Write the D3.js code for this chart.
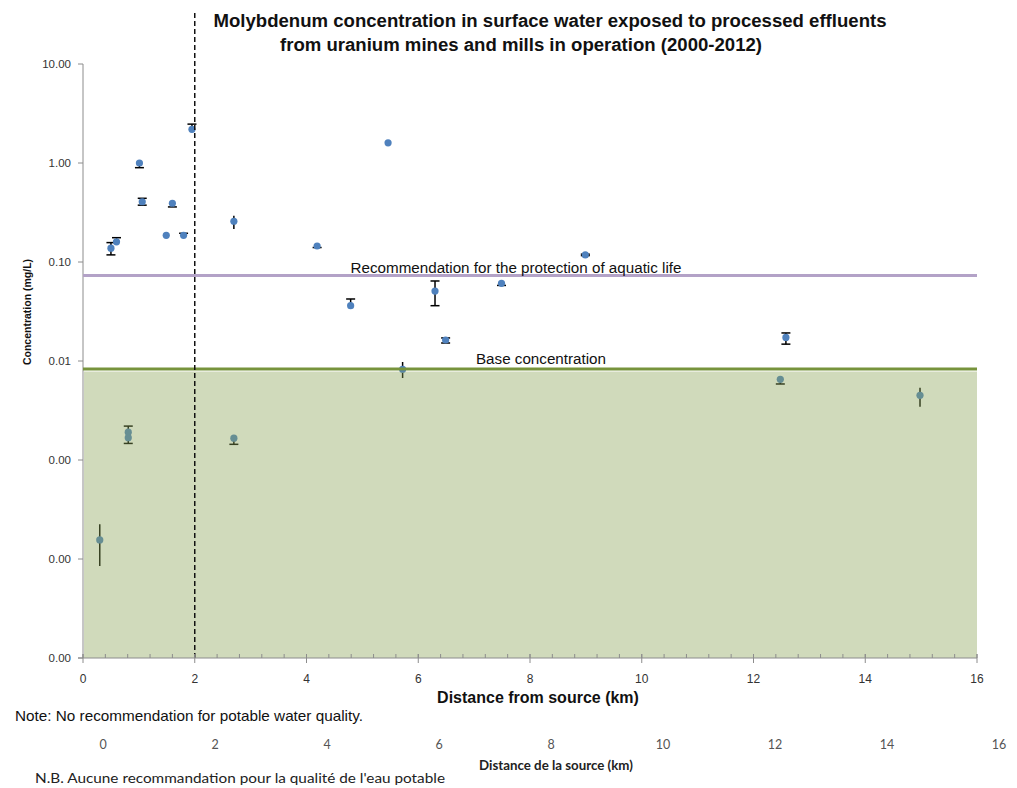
<!DOCTYPE html>
<html><head><meta charset="utf-8">
<script src="https://cdn.jsdelivr.net/npm/d3@7"></script>
<style>body{margin:0;background:#fff}</style>
</head><body>
<svg id="c" width="1017" height="788"></svg>
<script>
// Distances (km) and concentrations (mg/L) with error-bar bounds
const capX    = [0.50, 0.60, 0.81, 0.81, 1.01, 1.06, 1.49, 1.60, 1.80, 1.95, 2.70, 4.19, 4.79, 5.46, 6.30, 6.49, 7.49, 8.99, 12.48, 12.58];
const capY    = [0.138, 0.160, 0.00191, 0.00168, 1.00, 0.406, 0.186, 0.392, 0.186, 2.19, 0.00166, 0.145, 0.0362, 1.60, 0.0509, 0.0163, 0.0609, 0.118, 0.00653, 0.0173];
const capLo   = [0.118, 0.160, 0.00191, 0.00147, 0.897, 0.375, 0.186, 0.360, 0.186, 2.19, 0.00144, 0.140, 0.0362, 1.60, 0.0362, 0.0152, 0.0580, 0.116, 0.00586, 0.0148];
const capHi   = [0.157, 0.176, 0.00220, 0.00168, 1.00, 0.440, 0.186, 0.392, 0.195, 2.47, 0.00166, 0.145, 0.0423, 1.60, 0.0643, 0.0171, 0.0609, 0.120, 0.00653, 0.0192];
const rangeX  = [0.30, 2.70, 5.72, 14.98];
const rangeY  = [0.000156, 0.258, 0.00824, 0.0045];
const rangeLo = [0.0000849, 0.215, 0.00673, 0.00345];
const rangeHi = [0.000224, 0.294, 0.00977, 0.00537];
const aquaticGuideline = 0.073;
const baseConcentration = 0.0083;
const dividerKm = 2;
const xTicks = [0, 2, 4, 6, 8, 10, 12, 14, 16];
const yTicks = [10, 1, 0.1, 0.01, 0.001, 0.0001, 0.00001];
const titleLines = ["Molybdenum concentration in surface water exposed to processed effluents",
                    "from uranium mines and mills in operation (2000-2012)"];

const svg = d3.select("#c");
const x = d3.scaleLinear().domain([0, 16]).range([83, 977]);
const y = d3.scaleLog().domain([1e-5, 10]).range([658, 64]);
const narrow = "'Liberation Sans Narrow','Arial Narrow','Liberation Sans',Arial,sans-serif";
const sans = "'Liberation Sans',Arial,sans-serif";

// Title
const tx = [550, 521], ty = [27, 51], tl = [673, 482];
titleLines.forEach((t, i) => svg.append("text").attr("x", tx[i]).attr("y", ty[i])
  .attr("text-anchor", "middle").attr("font-family", narrow).attr("font-weight", "bold")
  .attr("font-size", 18).attr("fill", "#111").attr("textLength", tl[i]).attr("lengthAdjust", "spacingAndGlyphs").text(t));

// Y axis
svg.append("line").attr("x1", 83).attr("x2", 83).attr("y1", y(10)).attr("y2", y(1e-5)).attr("stroke", "#8c8c8c").attr("stroke-width", 1);
const yg = svg.append("g");
yTicks.forEach(v => {
  yg.append("line").attr("x1", 78).attr("x2", 83).attr("y1", y(v)).attr("y2", y(v)).attr("stroke", "#8c8c8c");
  yg.append("text").attr("x", 71).attr("y", y(v) + 4).attr("text-anchor", "end")
    .attr("font-family", sans).attr("font-size", 11.5).attr("fill", "#333").text(d3.format(".2f")(v));
});
svg.append("text").attr("transform", "translate(31,312) rotate(-90)").attr("text-anchor", "middle")
  .attr("font-family", sans).attr("font-weight", "bold").attr("font-size", 10.5).attr("fill", "#111")
  .text("Concentration (mg/L)");

// Points & error bars (drawn under the translucent base-concentration band)
const capData = capX.map((d, i) => ({x: d, y: capY[i], lo: capLo[i], hi: capHi[i]}));
const rangeData = rangeX.map((d, i) => ({x: d, y: rangeY[i], lo: rangeLo[i], hi: rangeHi[i]}));
const eb = svg.append("g").attr("stroke", "#000").attr("stroke-width", 1.5);
capData.concat(rangeData).forEach(d => {
  if (y(d.lo) - y(d.hi) > 0.5)
    eb.append("line").attr("x1", x(d.x)).attr("x2", x(d.x)).attr("y1", y(d.lo)).attr("y2", y(d.hi));
});
capData.forEach(d => {
  if (d.lo < d.y) eb.append("line").attr("x1", x(d.x) - 4.5).attr("x2", x(d.x) + 4.5).attr("y1", y(d.lo)).attr("y2", y(d.lo));
  if (d.hi > d.y) eb.append("line").attr("x1", x(d.x) - 4.5).attr("x2", x(d.x) + 4.5).attr("y1", y(d.hi)).attr("y2", y(d.hi));
});
svg.append("g").selectAll("circle").data(capData.concat(rangeData)).join("circle")
  .attr("cx", d => x(d.x)).attr("cy", d => y(d.y)).attr("r", 3.6).attr("fill", "#4f81bd");

// Base concentration band
svg.append("rect").attr("x", 84).attr("y", y(baseConcentration) + 2.5).attr("width", x(16) - 84)
  .attr("height", y(1e-5) - y(baseConcentration) - 2.5).attr("fill", "#8aa355").attr("opacity", 0.4);
svg.append("line").attr("x1", 83).attr("x2", x(16)).attr("y1", y(baseConcentration)).attr("y2", y(baseConcentration))
  .attr("stroke", "#77933c").attr("stroke-width", 3);
svg.append("line").attr("x1", 83).attr("x2", x(16)).attr("y1", y(aquaticGuideline)).attr("y2", y(aquaticGuideline))
  .attr("stroke", "#b3a2c7").attr("stroke-width", 3);
svg.append("text").attr("x", 516).attr("y", y(aquaticGuideline) - 3).attr("text-anchor", "middle")
  .attr("font-family", sans).attr("font-size", 15.2).attr("fill", "#111").text("Recommendation for the protection of aquatic life");
svg.append("text").attr("x", 541).attr("y", y(baseConcentration) - 5).attr("text-anchor", "middle")
  .attr("font-family", sans).attr("font-size", 15.2).attr("fill", "#111").text("Base concentration");

// Divider at 2 km
svg.append("line").attr("x1", x(dividerKm)).attr("x2", x(dividerKm)).attr("y1", 13).attr("y2", y(1e-5))
  .attr("stroke", "#111").attr("stroke-width", 1.5).attr("stroke-dasharray", "5,3");

// X axis
svg.append("line").attr("x1", 78).attr("x2", x(16)).attr("y1", 658).attr("y2", 658).attr("stroke", "#8c8c8c");
const minor = d3.range(0, 16.001, 0.4);
minor.forEach(v => svg.append("line").attr("x1", x(v)).attr("x2", x(v)).attr("y1", 654).attr("y2", 658).attr("stroke", "#8c8c8c"));
xTicks.forEach(v => {
  svg.append("line").attr("x1", x(v)).attr("x2", x(v)).attr("y1", 654).attr("y2", 663).attr("stroke", "#8c8c8c");
  svg.append("text").attr("x", x(v)).attr("y", 683).attr("text-anchor", "middle")
    .attr("font-family", narrow).attr("font-size", 12).attr("fill", "#333").text(v);
});
svg.append("text").attr("x", 538).attr("y", 703).attr("text-anchor", "middle")
  .attr("font-family", narrow).attr("font-weight", "bold").attr("font-size", 16).attr("fill", "#111")
  .text("Distance from source (km)");
svg.append("text").attr("x", 15).attr("y", 721).attr("font-family", sans).attr("font-size", 14.5).attr("fill", "#111")
  .attr("textLength", 348).attr("lengthAdjust", "spacingAndGlyphs")
  .text("Note: No recommendation for potable water quality.");

// French ghost axis
const x2 = d3.scaleLinear().domain([0, 16]).range([103, 999]);
xTicks.forEach(v => svg.append("text").attr("x", x2(v)).attr("y", 749).attr("text-anchor", "middle")
  .attr("font-family", "Lato,'Open Sans',sans-serif").attr("font-size", 12.5).attr("fill", "#555").text(v));
svg.append("text").attr("x", 556).attr("y", 770).attr("text-anchor", "middle")
  .attr("font-family", "Lato,'Open Sans',sans-serif").attr("font-weight", "bold").attr("font-size", 13.3).attr("fill", "#222")
  .text("Distance de la source (km)");
svg.append("text").attr("x", 35).attr("y", 783).attr("font-family", "Lato,'Open Sans',sans-serif")
  .attr("font-size", 13).attr("fill", "#222").attr("textLength", 410).attr("lengthAdjust", "spacingAndGlyphs")
  .text("N.B. Aucune recommandation pour la qualité de l'eau potable");
</script>
</body></html>
